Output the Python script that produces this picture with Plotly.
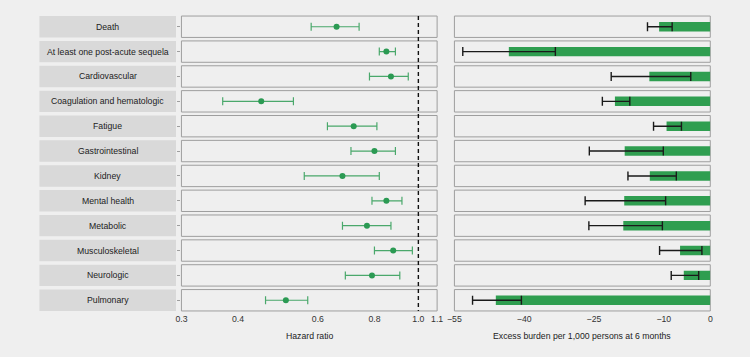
import plotly.graph_objects as go

categories = ["Death", "At least one post-acute sequela", "Cardiovascular",
              "Coagulation and hematologic", "Fatigue", "Gastrointestinal",
              "Kidney", "Mental health", "Metabolic", "Musculoskeletal",
              "Neurologic", "Pulmonary"]

hr = [0.66, 0.85, 0.87, 0.45, 0.72, 0.80, 0.68, 0.85, 0.77, 0.88, 0.79, 0.51]
hr_lo = [0.58, 0.82, 0.78, 0.37, 0.63, 0.71, 0.56, 0.79, 0.68, 0.80, 0.69, 0.46]
hr_hi = [0.74, 0.89, 0.95, 0.53, 0.81, 0.89, 0.82, 0.92, 0.87, 0.97, 0.91, 0.57]

burden = [-11.0, -43.3, -13.1, -20.5, -9.4, -18.4, -13.0, -18.5, -18.7, -6.5, -5.7, -46.1]
burden_lo = [-13.5, -53.2, -21.3, -23.2, -12.2, -26.0, -17.7, -26.9, -26.1, -10.9, -8.4, -51.1]
burden_hi = [-8.2, -33.3, -4.2, -17.3, -6.2, -10.1, -7.3, -9.6, -10.3, -1.8, -2.5, -40.6]

hr_ticks = [0.3, 0.4, 0.6, 0.8, 1.0, 1.1]
hr_ticktext = ["0.3", "0.4", "0.6", "0.8", "1.0", "1.1"]
burden_ticks = [-55, -40, -25, -10, 0]
burden_ticktext = ["\u221255", "\u221240", "\u221225", "\u221210", "0"]

W, H = 750, 357
BG = "#efefef"
GREEN = "#2f9e50"
FONT = "Liberation Sans, Arial, sans-serif"
n = len(categories)

# pixel layout -> paper fractions
lx0, lx1 = 177.5 / W, 437.7 / W
rx0, rx1 = 455.3 / W, 715.7 / W
ytop, ybot = 14.3, 312.7
ydom = [(H - ybot) / H, (H - ytop) / H]
half = 0.43

fig = go.Figure()

fig.add_trace(go.Scatter(
    x=hr, y=categories, mode="markers",
    marker=dict(color="#2b9a53", size=6),
    error_x=dict(type="data", symmetric=False,
                 array=[h - v for h, v in zip(hr_hi, hr)],
                 arrayminus=[v - l for v, l in zip(hr, hr_lo)],
                 color="#4aa86b", thickness=1.2, width=4),
    xaxis="x", yaxis="y", showlegend=False, hoverinfo="skip"))

fig.add_trace(go.Bar(
    x=burden, y=categories, orientation="h", base=0,
    marker=dict(color=GREEN, line=dict(width=0)), width=0.38,
    error_x=dict(type="data", symmetric=False,
                 array=[h - v for h, v in zip(burden_hi, burden)],
                 arrayminus=[v - l for v, l in zip(burden, burden_lo)],
                 color="#1a1a1a", thickness=1.4, width=4.5),
    xaxis="x2", yaxis="y2", showlegend=False, hoverinfo="skip"))

shapes = []
annotations = []
for i, c in enumerate(categories):
    for xr in ("x domain", "x2 domain"):
        yr = "y" if xr == "x domain" else "y2"
        shapes.append(dict(type="rect", xref=xr, yref=yr, x0=0, x1=1,
                           y0=i - half, y1=i + half,
                           line=dict(color="#9e9e9e", width=1),
                           fillcolor="rgba(0,0,0,0)", layer="below"))
    shapes.append(dict(type="rect", xref="paper", yref="y",
                       x0=33 / W, x1=172 / W, y0=i - half, y1=i + half,
                       line=dict(width=0), fillcolor="#d9d9d9", layer="below"))
    annotations.append(dict(text=c, xref="paper", yref="y", x=102.5 / W, y=i,
                            showarrow=False, xanchor="center", yanchor="middle",
                            font=dict(family=FONT, size=8.7, color="#222222")))

shapes.append(dict(type="line", xref="x", yref="y", x0=1.0, x1=1.0,
                   y0=-half, y1=n - 1 + half,
                   line=dict(color="#111111", width=1.4, dash="4px,3px")))

annotations.append(dict(text="Hazard ratio", xref="paper", yref="paper",
                        x=(lx0 + lx1) / 2, y=(H - 335.5) / H, showarrow=False,
                        xanchor="center", yanchor="middle",
                        font=dict(family=FONT, size=8.7, color="#222222")))
annotations.append(dict(text="Excess burden per 1,000 persons at 6 months",
                        xref="paper", yref="paper",
                        x=(rx0 + rx1) / 2, y=(H - 335.5) / H, showarrow=False,
                        xanchor="center", yanchor="middle",
                        font=dict(family=FONT, size=8.7, color="#222222")))

yaxis_common = dict(type="category", categoryarray=categories,
                    range=[n - 0.5, -0.5], domain=ydom,
                    showticklabels=False, ticklen=3,
                    tickcolor="#9e9e9e", showgrid=False, zeroline=False,
                    showline=False)

fig.update_layout(
    width=W, height=H,
    margin=dict(l=0, r=0, t=0, b=0),
    paper_bgcolor=BG, plot_bgcolor=BG,
    font=dict(family=FONT, size=8.7, color="#222222"),
    hovermode=False,
    xaxis=dict(type="log", range=[-0.5229, 0.04139], domain=[lx0, lx1],
               tickvals=hr_ticks, ticktext=hr_ticktext, ticks="",
               showgrid=False, zeroline=False, showline=False, anchor="y",
               tickfont=dict(family=FONT, size=8.7, color="#333333")),
    xaxis2=dict(range=[-55, 0], domain=[rx0, rx1],
                tickvals=burden_ticks, ticktext=burden_ticktext, ticks="",
                showgrid=False, zeroline=False, showline=False, anchor="y2",
                tickfont=dict(family=FONT, size=8.7, color="#333333")),
    yaxis=dict(anchor="x", ticks="outside", **yaxis_common),
    yaxis2=dict(anchor="x2", ticks="", **yaxis_common),
    shapes=shapes, annotations=annotations,
)

fig.write_html("out.html",
               config={"displayModeBar": False},
               post_script="document.body.style.margin='0';"
                           "document.body.style.background='#efefef';"
                           "document.body.style.overflow='hidden';")
